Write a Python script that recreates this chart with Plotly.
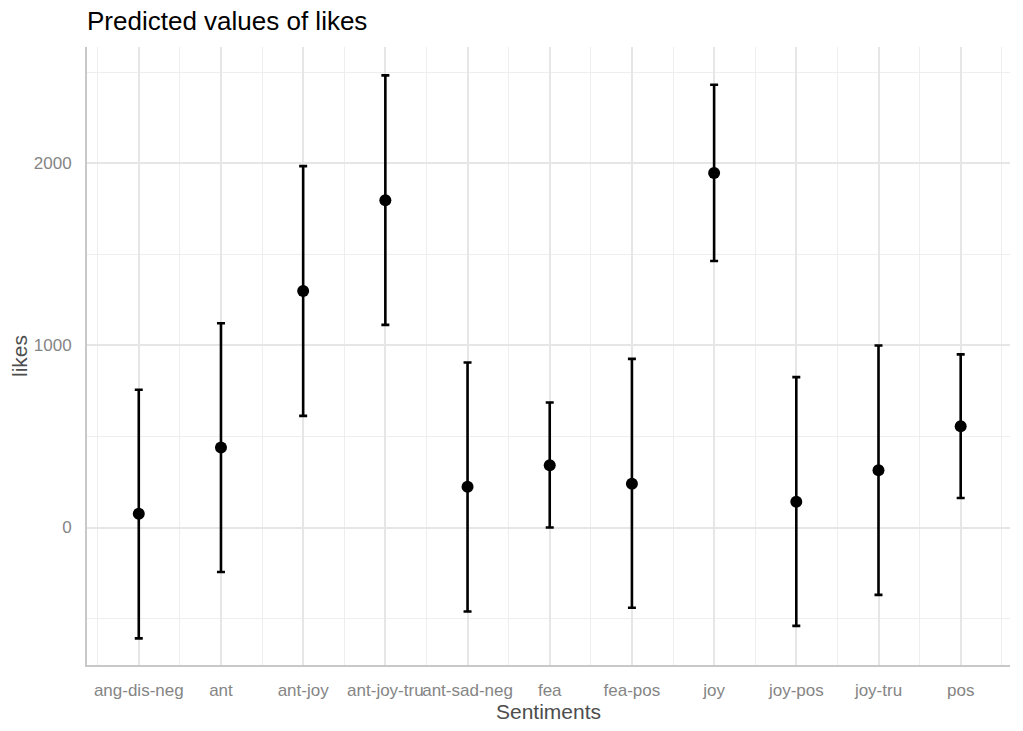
import plotly.graph_objects as go

categories = ["ang-dis-neg", "ant", "ant-joy", "ant-joy-tru", "ant-sad-neg", "fea",
              "fea-pos", "joy", "joy-pos", "joy-tru", "pos"]
predicted = [76, 439, 1299, 1797, 224, 342, 241, 1947, 141, 315, 556]
upper = [757, 1122, 1985, 2483, 906, 687, 926, 2432, 826, 1000, 951]
lower = [-609, -244, 613, 1113, -461, 0, -441, 1464, -540, -370, 162]
y_ticks = [0, 1000, 2000]
y_minor = [-500, 500, 1500, 2500]

xpos = list(range(len(categories)))
err_plus = [u - p for u, p in zip(upper, predicted)]
err_minus = [p - l for p, l in zip(predicted, lower)]

fig = go.Figure()
fig.add_trace(go.Scatter(
    x=xpos, y=predicted, mode="markers",
    marker=dict(color="black", size=12),
    error_y=dict(type="data", symmetric=False, array=err_plus, arrayminus=err_minus,
                 color="black", thickness=2.6, width=4),
    showlegend=False,
))

font_family = "Liberation Sans, Arial, sans-serif"
fig.update_layout(
    width=1023, height=731,
    paper_bgcolor="white", plot_bgcolor="white",
    margin=dict(l=87, r=13, t=47, b=66, autoexpand=False),
    font=dict(family=font_family),
    title=dict(text="Predicted values of likes", x=87/1023, xanchor="left", xref="container",
               y=1 - 21/731, yanchor="middle", yref="container",
               font=dict(size=26, color="black", family=font_family)),
    xaxis=dict(
        range=[-0.63, 10.6], tickmode="array", tickvals=xpos, ticktext=categories,
        tickangle=0,
        showgrid=True, gridcolor="#e6e6e6", gridwidth=1.5,
        minor=dict(tick0=0.5, dtick=1, showgrid=True, gridcolor="#eeeeee", gridwidth=1),
        zeroline=False, showline=True, linecolor="#c8c8c8", linewidth=2,
        ticks="", ticklabelstandoff=9,
        tickfont=dict(size=17, color="#858585"),
        title=dict(text="Sentiments", font=dict(size=21, color="#4d4d4d"), standoff=0),
    ),
    yaxis=dict(
        range=[-755, 2639], tickmode="array", tickvals=y_ticks,
        ticktext=[str(v) for v in y_ticks],
        showgrid=True, gridcolor="#e6e6e6", gridwidth=1.5,
        minor=dict(tickmode="array", tickvals=y_minor, showgrid=True,
                   gridcolor="#eeeeee", gridwidth=1),
        zeroline=False, showline=True, linecolor="#c8c8c8", linewidth=2,
        ticks="", ticklabelstandoff=10,
        tickfont=dict(size=17, color="#858585"),
        title=dict(text="likes", font=dict(size=21, color="#4d4d4d"), standoff=0),
    ),
)

fig.write_html("out.html", config={"displayModeBar": False},
               post_script="document.body.style.margin='0';")
